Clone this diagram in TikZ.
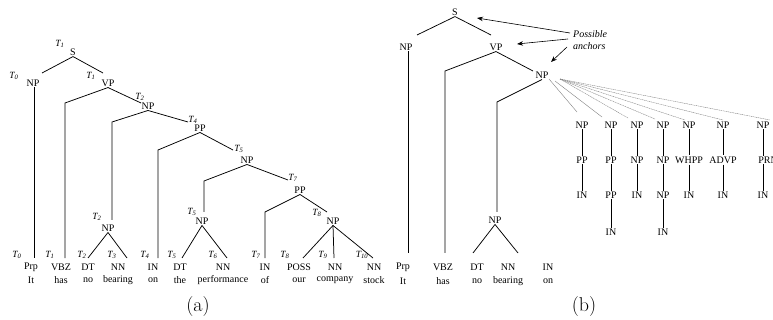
\documentclass[tikz,border=0pt]{standalone}
\usepackage{fontspec}
\newfontfamily\tms{Liberation Serif}
\usetikzlibrary{arrows.meta}
\begin{document}
\begin{tikzpicture}[x=1pt,y=-1pt,
  lab/.style={font=\tms\fontsize{10}{12}\selectfont, inner sep=1pt, anchor=center},
  wd/.style={font=\tms\fontsize{10}{12}\selectfont, inner sep=0pt, anchor=center},
  tl/.style={font=\tms\itshape\fontsize{9.5}{11}\selectfont, inner sep=0pt, anchor=center},
  br/.style={line width=0.75pt, black},
  sub/.style={line width=0.6pt, black},
  gl/.style={line width=0.4pt, gray},
  gd/.style={line width=0.4pt, gray, dash pattern=on 1.2pt off 0.6pt},
  arr/.style={line width=0.6pt, -{Stealth[length=6pt,width=4.5pt]}},
  captxt/.style={font=\fontsize{20}{24}\selectfont, inner sep=0pt}]
\useasboundingbox (0,0) rectangle (773,320);

% ================= tree (a) =================
\node[lab] (aS) at (73,52) {S};        \node[tl] (taS) at (60,44) {T\textsubscript{1}};
\node[lab] (aNP0) at (33,83) {NP};     \node[tl] (taNP0) at (14,76) {T\textsubscript{0}};
\node[lab] (aVP) at (108,83) {VP};     \node[tl] (taVP) at (91,76) {T\textsubscript{1}};
\node[lab] (aNP2) at (148,106) {NP};   \node[tl] (taNP2) at (140,97) {T\textsubscript{2}};
\node[lab] (aPP4) at (200,128) {PP};   \node[tl] (taPP4) at (193,120) {T\textsubscript{4}};
\node[lab] (aNP5) at (247,160) {NP};   \node[tl] (taNP5) at (239,149) {T\textsubscript{5}};
\node[lab] (aPP7) at (300,190) {PP};   \node[tl] (taPP7) at (293,178) {T\textsubscript{7}};
\node[lab] (aNP8) at (333,221) {NP};   \node[tl] (taNP8) at (317,213) {T\textsubscript{8}};
\node[lab] (aNP5b) at (202,221) {NP};  \node[tl] (taNP5b) at (192,212) {T\textsubscript{5}};
\node[lab] (aNP2b) at (108,228) {NP};  \node[tl] (taNP2b) at (97,217) {T\textsubscript{2}};

% leaves (a)
\node[wd] (aL0) at (31,267) {Prp};   \node[wd] (aW0) at (31,280) {It};          \node[tl] (aT0) at (17,255) {T\textsubscript{0}};
\node[wd] (aL1) at (61,267) {VBZ};   \node[wd] (aW1) at (61,280) {has};         \node[tl] (aT1) at (50,255) {T\textsubscript{1}};
\node[wd] (aL2) at (88,267) {DT};    \node[wd] (aW2) at (88,280) {no};          \node[tl] (aT2) at (82,255) {T\textsubscript{2}};
\node[wd] (aL3) at (118,267) {NN};   \node[wd] (aW3) at (118,280) {bearing};    \node[tl] (aT3) at (112,255) {T\textsubscript{3}};
\node[wd] (aL4) at (153,267) {IN};   \node[wd] (aW4) at (153,280) {on};         \node[tl] (aT4) at (145,255) {T\textsubscript{4}};
\node[wd] (aL5) at (180,267) {DT};   \node[wd] (aW5) at (180,280) {the};        \node[tl] (aT5) at (172,255) {T\textsubscript{5}};
\node[wd] (aL6) at (223,267) {NN};   \node[wd] (aW6) at (223,280) {performance};\node[tl] (aT6) at (213,255) {T\textsubscript{6}};
\node[wd] (aL7) at (265,267) {IN};   \node[wd] (aW7) at (265,280) {of};         \node[tl] (aT7) at (256,255) {T\textsubscript{7}};
\node[wd] (aL8) at (299,267) {POSS}; \node[wd] (aW8) at (299,280) {our};        \node[tl] (aT8) at (285,255) {T\textsubscript{8}};
\node[wd] (aL9) at (335,267) {NN};   \node[wd] (aW9) at (335,280) {company};    \node[tl] (aT9) at (323,255) {T\textsubscript{9}};
\node[wd] (aL10) at (374,267) {NN};  \node[wd] (aW10) at (374,280) {stock};     \node[tl] (aT10) at (362,255) {T\textsubscript{10}};

% bends (a)
\coordinate (a1) at (42,73);  \coordinate (a2) at (103,73);
\coordinate (a3) at (65,103); \coordinate (a4) at (141,103);
\coordinate (a5) at (112,122);\coordinate (a6) at (188,122);
\coordinate (a7) at (158,150);\coordinate (a8) at (233,150);
\coordinate (a9) at (204,181);\coordinate (a10) at (288,180);
\coordinate (a11) at (265,212);\coordinate (a12) at (327,212);
\coordinate (e0) at (34,258);  \coordinate (e1) at (65,258);
\coordinate (e2) at (88,258);  \coordinate (e3) at (127,258);
\coordinate (e4) at (158,258); \coordinate (e5) at (182,258);
\coordinate (e6) at (227,258); \coordinate (e7) at (265,258);
\coordinate (e8) at (303,258); \coordinate (e9) at (334,258);
\coordinate (e10) at (373,258);
\coordinate (n2b) at (112,220); \coordinate (n5b) at (204,212);

\draw[br] (a1) -- (aS.south) -- (a2);
\draw[br] (aNP0.south -| e0) -- (e0);
\draw[br] (aVP.south) -- (a3) -- (e1);
\draw[br] (aVP.south) -- (a4);
\draw[br] (aNP2.south) -- (a5) -- (n2b);
\draw[br] (aNP2.south) -- (a6);
\draw[br] (aPP4.south) -- (a7) -- (e4);
\draw[br] (aPP4.south) -- (a8);
\draw[br] (aNP5.south) -- (a9) -- (n5b);
\draw[br] (aNP5.south) -- (a10);
\draw[br] (aPP7.south) -- (a11) -- (e7);
\draw[br] (aPP7.south) -- (a12);
\draw[br] (e2) -- (aNP2b.south) -- (e3);
\draw[br] (e5) -- (aNP5b.south) -- (e6);
\draw[br] (e8) -- (aNP8.south) -- (e10);
\draw[br] (aNP8.south) -- (e9);

\node[captxt] (capa) at (198,307) {(a)};

% ================= tree (b) =================
\node[lab] (bS) at (455,12) {S};
\node[lab] (bNP0) at (406,47) {NP};
\node[lab] (bVP) at (496,47) {VP};
\node[lab] (bNP2) at (542,75) {NP};
\node[lab] (bNP3) at (495,220) {NP};

\node[wd] (bL0) at (403,267) {Prp};  \node[wd] (bW0) at (403,281) {It};
\node[wd] (bL1) at (443,267) {VBZ};  \node[wd] (bW1) at (443,281) {has};
\node[wd] (bL2) at (477,267) {DT};   \node[wd] (bW2) at (477,281) {no};
\node[wd] (bL3) at (508,267) {NN};   \node[wd] (bW3) at (508,281) {bearing};
\node[wd] (bL4) at (548,267) {IN};   \node[wd] (bW4) at (548,281) {on};

\coordinate (b1) at (417,35);  \coordinate (b2) at (491,35);
\coordinate (b3) at (445,71);  \coordinate (b4) at (533,71);
\coordinate (b5) at (497,102); \coordinate (bn3) at (497,212);
\coordinate (f0) at (408,253); \coordinate (f1) at (445,253);
\coordinate (f2) at (473,253); \coordinate (f3) at (518,253);

\draw[br] (b1) -- (bS.south) -- (b2);
\draw[br] (bNP0.south -| f0) -- (f0);
\draw[br] (bVP.south) -- (b3) -- (f1);
\draw[br] (bVP.south) -- (b4);
\draw[br] (bNP2.south) -- (b5) -- (bn3);
\draw[br] (f2) -- (bNP3.south) -- (f3);

% possible anchors
\node[font=\tms\itshape\fontsize{10}{12}\selectfont, align=left, anchor=west, inner sep=0pt] (pa) at (573,40) {Possible\\anchors};
\coordinate (p1) at (570,33); \coordinate (p2) at (568,39); \coordinate (p3) at (567,47);
\coordinate (q1) at (477,18); \coordinate (q2) at (517,44); \coordinate (q3) at (551,62);
\draw[arr] (p1) -- (q1);
\draw[arr] (p2) -- (q2);
\draw[arr] (p3) -- (q3);

% candidate subtrees
\node[lab] (c1a) at (582,125) {NP}; \node[lab] (c1b) at (582,160) {PP}; \node[lab] (c1c) at (582,195) {IN};
\node[lab] (c2a) at (611,125) {NP}; \node[lab] (c2b) at (611,160) {PP}; \node[lab] (c2c) at (611,195) {PP}; \node[lab] (c2d) at (611,232) {IN};
\node[lab] (c3a) at (637,125) {NP}; \node[lab] (c3b) at (637,160) {NP}; \node[lab] (c3c) at (637,195) {IN};
\node[lab] (c4a) at (663,125) {NP}; \node[lab] (c4b) at (663,160) {NP}; \node[lab] (c4c) at (663,195) {NP}; \node[lab] (c4d) at (663,232) {IN};
\node[lab] (c5a) at (689,125) {NP}; \node[lab] (c5b) at (689,160) {WHPP}; \node[lab] (c5c) at (689,195) {IN};
\node[lab] (c6a) at (723,125) {NP}; \node[lab] (c6b) at (723,160) {ADVP}; \node[lab] (c6c) at (723,195) {IN};
\node[lab] (c7a) at (763,125) {NP}; \node[lab] (c7b) at (768,160) {PRN}; \node[lab] (c7c) at (763,195) {IN};

\foreach \c in {c1,c3,c5,c6}{
  \draw[sub] (\c a.south) -- (\c b.north);
  \draw[sub] (\c b.south) -- (\c c.north);}
\draw[sub] (c7a.south) -- (c7a.south |- c7b.north);
\draw[sub] (c7a.south |- c7b.south) -- (c7c.north);
\foreach \c in {c2,c4}{
  \draw[sub] (\c a.south) -- (\c b.north);
  \draw[sub] (\c b.south) -- (\c c.north);
  \draw[sub] (\c c.south) -- (\c d.north);}

\coordinate (g1) at (549,79); \coordinate (g2) at (555,81); \coordinate (g3) at (560,79);
\coordinate (h1) at (577,112); \coordinate (h2) at (602,117); \coordinate (h3) at (628,118);
\coordinate (h4) at (655,119); \coordinate (h5) at (685,120); \coordinate (h6) at (723,120);
\coordinate (h7) at (770,120);
\draw[gl] (g1) -- (h1);
\draw[gl] (g2) -- (h2);
\draw[gd] (g3) -- (h3);
\draw[gd] (g3) -- (h4);
\draw[gd] (g3) -- (h5);
\draw[gd] (g3) -- (h6);
\draw[gd] (g3) -- (h7);

\node[captxt] (capb) at (584,307) {(b)};
\end{tikzpicture}
\end{document}
